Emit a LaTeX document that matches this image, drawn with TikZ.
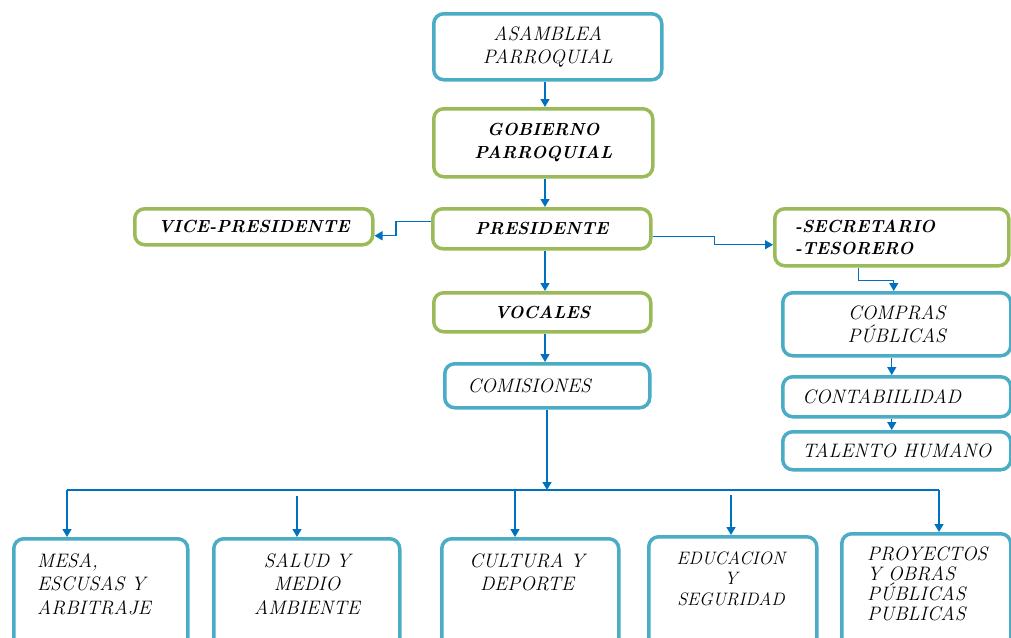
\documentclass[tikz,border=0pt]{standalone}
\usepackage{fontspec}
\usetikzlibrary{arrows.meta}
\definecolor{bxblue}{HTML}{4BACC6}
\definecolor{bxgreen}{HTML}{9BBB59}
\definecolor{lnblue}{HTML}{0070C0}
\newcommand{\regfont}[2]{\fontsize{#1}{#2}\selectfont\itshape\addfontfeatures{LetterSpace=7,FakeBold=1.5}}
\tikzset{
  box/.style={draw, line width=3.5pt, rounded corners=10pt, fill=white, inner sep=0pt, anchor=north west},
  bbox/.style={box, draw=bxblue},
  gbox/.style={box, draw=bxgreen},
  reg/.style={font=\regfont{19.5}{22.5}, align=center, text=black},
  bld/.style={font=\fontsize{17.5}{22.5}\selectfont\bfseries\itshape\addfontfeatures{LetterSpace=4}, align=center, text=black},
  txt/.style={reg, inner sep=0pt, font=\regfont{19.5}{23.5}},
  conn/.style={draw=lnblue, line width=1.3pt, -{Triangle[length=8pt,width=9pt]}},
  wire/.style={draw=lnblue, line width=1.3pt},
}
\begin{document}
\begin{tikzpicture}[x=1pt,y=-1pt]
\useasboundingbox (0,0) rectangle (1011,637);
\clip (0,0) rectangle (1011,637);
% top column
\node[bbox, reg, minimum width=228pt, minimum height=66pt] (asam) at (432,12) {ASAMBLEA\\PARROQUIAL};
\node[gbox, bld, minimum width=219pt, minimum height=68pt] (gob) at (432,107) {GOBIERNO\\PARROQUIAL};
\node[gbox, bld, minimum width=218pt, minimum height=40pt] (pres) at (431,207) {PRESIDENTE};
\node[gbox, bld, minimum width=238pt, minimum height=36pt] (vice) at (133,207) {VICE-PRESIDENTE};
\node[gbox, bld, minimum width=234pt, minimum height=57pt, text width=194pt, align=left] (secr) at (773,207) {-SECRETARIO\\-TESORERO};
\node[gbox, bld, minimum width=217pt, minimum height=39pt] (voc) at (432,291) {VOCALES};
\node[bbox, reg, minimum width=205pt, minimum height=44pt] (com) at (443,362) {COMISIONES\hspace*{36pt}};
% right column
\node[bbox, reg, minimum width=228pt, minimum height=63pt] (comp) at (781,291) {COMPRAS\\PÚBLICAS};
\node[bbox, reg, minimum width=228pt, minimum height=40pt] (cont) at (781,375) {CONTABIILIDAD\hspace*{30pt}};
\node[bbox, reg, minimum width=228pt, minimum height=38pt] (tal) at (781,430) {TALENTO HUMANO};
% bottom boxes
\node[bbox, minimum width=174pt, minimum height=120pt] (mesa) at (12,537) {};
\node[bbox, minimum width=186pt, minimum height=120pt] (salud) at (212,537) {};
\node[bbox, minimum width=177pt, minimum height=120pt] (cult) at (440,537) {};
\node[bbox, minimum width=168pt, minimum height=120pt] (educ) at (647,535) {};
\node[bbox, minimum width=169pt, minimum height=120pt] (proy) at (840,532) {};
\node[txt, anchor=north west, align=left] (mesaT) at (37,553) {MESA,\\ESCUSAS Y\\ARBITRAJE};
\node[txt, anchor=north] (saludT) at (307,553) {SALUD Y\\MEDIO\\AMBIENTE};
\node[txt, anchor=north] (cultT) at (527,553) {CULTURA Y\\DEPORTE};
\node[txt, anchor=north, font=\regfont{18}{20.5}] (educT) at (731,551) {EDUCACION\\Y\\SEGURIDAD};
\node[txt, anchor=north west, align=left, font=\regfont{19.5}{20}] (proyT) at (867,547) {PROYECTOS\\Y OBRAS\\PÚBLICAS\\PUBLICAS};
% connectors
\draw[conn] (asam.south -| 545,0) -- (gob.north -| 545,0);
\draw[conn] (gob.south -| 545,0) -- (pres.north -| 545,0);
\draw[conn] (pres.south -| 545,0) -- (voc.north -| 545,0);
\draw[conn] (voc.south -| 545,0) -- (com.north -| 545,0);
\draw[conn] ([yshift=7pt]pres.west) -- ++(-35,0) |- ([yshift=-9pt]vice.east);
\draw[conn] ([yshift=-8pt]pres.east) -- ++(62,0) |- ([yshift=-7.5pt]secr.west);
\draw[conn] ([xshift=-33pt]secr.south) -- ++(0,13) -| ([xshift=-3pt]comp.north);
\draw[conn] ([xshift=-5pt]comp.south) -- ([xshift=-5pt]cont.north);
\draw[conn] ([xshift=-5pt]cont.south) -- ([xshift=-5pt]tal.north);
% bus
\coordinate (busL) at (67,490);
\coordinate (busR) at (939,490);
\coordinate (busC) at (547,490);
\coordinate (d2) at (297,496);
\coordinate (d3) at (515,490);
\coordinate (d4) at (731,495);
\draw[wire] (busL) -- (busR);
\draw[conn] (com.south -| busC) -- (busC);
\draw[conn] (busL) -- (busL |- mesa.north);
\draw[conn] (d2) -- (d2 |- salud.north);
\draw[conn] (d3) -- (d3 |- cult.north);
\draw[conn] (d4) -- (d4 |- educ.north);
\draw[conn] (busR) -- (busR |- proy.north);
\end{tikzpicture}
\end{document}
